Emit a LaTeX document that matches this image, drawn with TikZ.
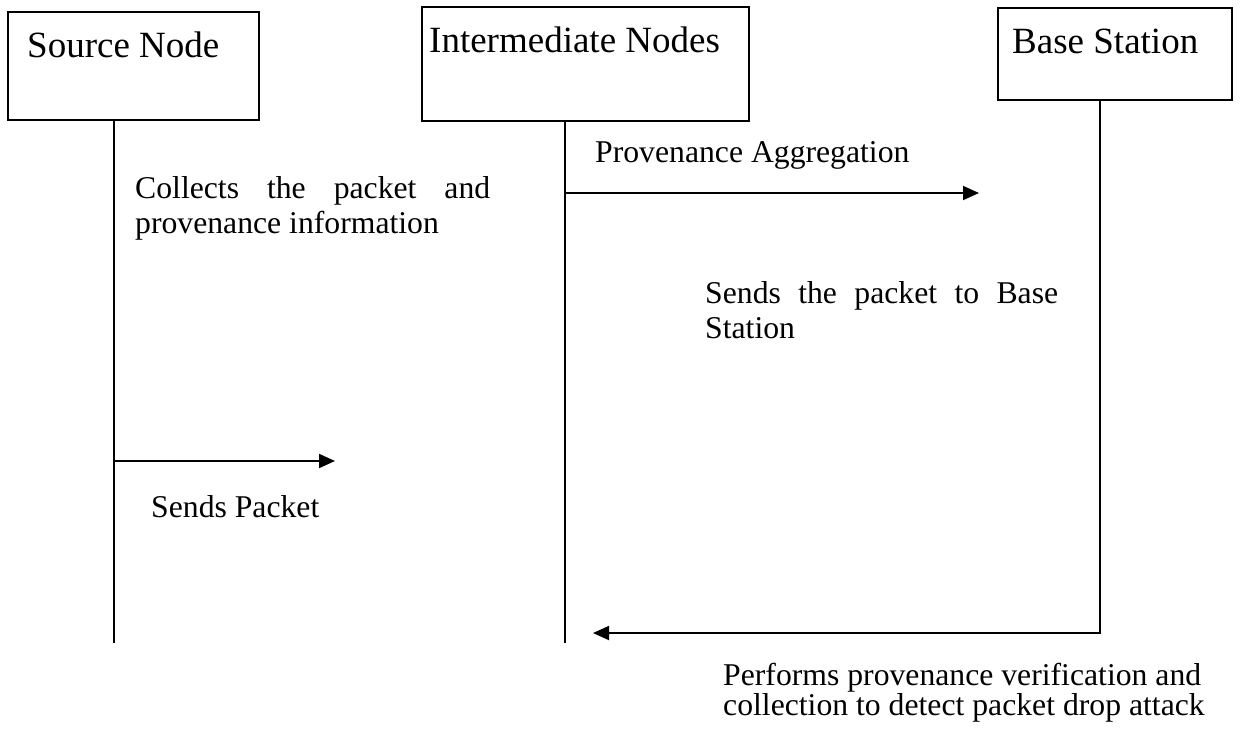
\documentclass[tikz,border=0pt]{standalone}
\usepackage{fontspec}
\setmainfont{Liberation Serif}
\usetikzlibrary{arrows.meta}
\begin{document}
\begin{tikzpicture}[x=1pt,y=-1pt,
  box/.style={draw, line width=1.5pt, inner sep=0pt, anchor=north west},
  title/.style={anchor=base west, inner sep=0pt, font=\fontsize{37}{42}\selectfont},
  lbl/.style={anchor=base west, inner sep=0pt, font=\fontsize{31.7}{35}\selectfont},
  life/.style={line width=1.8pt},
  msg/.style={line width=1.8pt, -{Triangle[length=16pt,width=14pt]}}]
\useasboundingbox (0,0) rectangle (1241,729);

% participant boxes and their titles
\node[box, minimum width=251pt, minimum height=108pt] (src) at (7,11) {};
\node[title] (srcT) at (27,57) {Source Node};
\node[box, minimum width=327pt, minimum height=114pt] (mid) at (421,6) {};
\node[title] (midT) at (429,52) {Intermediate Nodes};
\node[box, minimum width=234pt, minimum height=92pt] (bs) at (997,7) {};
\node[title] (bsT) at (1012,53) {Base Station};

% lifeline end points and message anchors
\coordinate (srcTop) at (114,119);
\coordinate (srcEnd) at (114,643);
\coordinate (pktFrom) at (114,461);
\coordinate (pktTo) at (335,461);
\coordinate (midTop) at (565,120);
\coordinate (midEnd) at (565,643);
\coordinate (aggFrom) at (565,193);
\coordinate (aggTo) at (979,193);
\coordinate (bsTop) at (1100,99);
\coordinate (bsCorner) at (1100,633);
\coordinate (verTo) at (593,633);

% lifelines
\draw[life] (srcTop) -- (srcEnd);
\draw[life] (midTop) -- (midEnd);

% messages
\draw[msg] (pktFrom) -- (pktTo);
\draw[msg] (aggFrom) -- (aggTo);
\draw[msg] (bsTop) -- (bsCorner) -- (verTo);

% step descriptions
\node[lbl, text width=355pt, align=justify] (collect) at (135,198)
  {Collects the packet and provenance information};
\node[lbl] (agg) at (595,162) {Provenance Aggregation};
\node[lbl, text width=353pt, align=justify] (toBs) at (705,303)
  {Sends the packet to Base Station};
\node[lbl] (pkt) at (151,517) {Sends Packet};
\node[lbl, text width=495pt, align=flush left, font=\fontsize{31.7}{30}\selectfont] (verify) at (723,685)
  {Performs provenance verification and\\collection to detect packet drop attack};
\end{tikzpicture}
\end{document}
